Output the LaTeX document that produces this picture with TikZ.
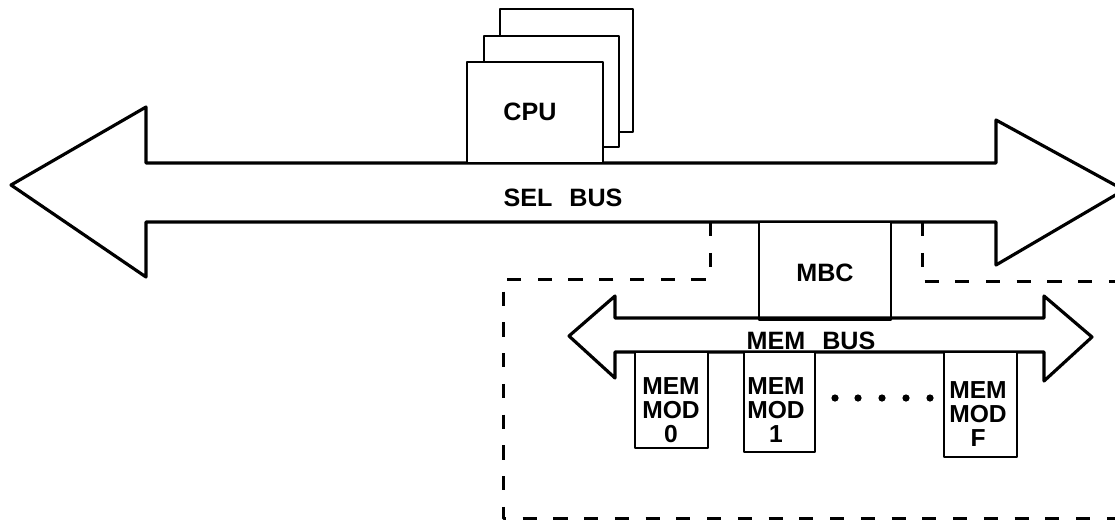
\documentclass[tikz,border=0pt]{standalone}
\usepackage{fontspec}
\setmainfont{Liberation Sans}
\usetikzlibrary{calc}

\begin{document}
\begin{tikzpicture}[x=0.02cm,y=-0.02cm,line join=round,
  bus/.style={line width=1.8pt},
  card/.style={draw,line width=1.6pt,fill=white,inner sep=0pt},
  enclosure/.style={line width=1.7pt,dash pattern=on 8pt off 9.5pt},
  lbl/.style={font=\fontsize{14.3}{16}\selectfont\bfseries,inner sep=0pt},
  modlbl/.style={font=\fontsize{14}{13.7}\selectfont\bfseries,align=center,inner sep=0pt}]
  \useasboundingbox (0,0) rectangle (1115,525);
  % sel bus with the cpu cards on top
  \draw[bus] (146,163) -- (146,107) -- (11,185) -- (146,277) -- (146,222) -- (996,222)
    -- (996,265) -- (1124,190) -- (996,120) -- (996,163) -- cycle;
  \node[card,minimum width=2.66cm,minimum height=2.46cm] (cpu3) at (566.5,70.5) {};
  \node[card,minimum width=2.70cm,minimum height=2.22cm] (cpu2) at (551.5,91.5) {};
  \node[card,minimum width=2.72cm,minimum height=2.02cm] (cpu1) at (535,112.5) {};
  \node[lbl] (cputxt) at (530,112) {CPU};
  \node[lbl] (selbus) at (563,198) {SEL\hspace{0.34cm}BUS};
  % memory subsystem
  \draw[enclosure] (710,222) -- (710,279) -- (503,279) -- (503,518) -- (1115,518);
  \draw[enclosure] (922,222) -- (922,281) -- (1115,281);
  \node[card,minimum width=2.64cm,minimum height=1.96cm] (mbc) at (825,271) {};
  \node[lbl] (mbctxt) at (825,273) {MBC};
  \draw[bus] (615,318) -- (615,296) -- (569,336) -- (615,378) -- (615,352) -- (1044,352)
    -- (1044,381) -- (1092,337) -- (1044,296) -- (1044,318) -- cycle;
  \node[lbl] (membus) at (811,341) {MEM\hspace{0.34cm}BUS};
  \node[card,minimum width=1.46cm,minimum height=1.92cm] (mod0) at (671.5,400) {};
  \node[card,minimum width=1.42cm,minimum height=2.00cm] (mod1) at (779.5,402) {};
  \node[card,minimum width=1.46cm,minimum height=2.10cm] (modF) at (980.5,404.5) {};
  \node[modlbl] (mod0txt) at (671,410) {MEM\\MOD\\0};
  \node[modlbl] (mod1txt) at (776,410) {MEM\\MOD\\1};
  \node[modlbl] (modFtxt) at (978,414) {MEM\\MOD\\F};
  \foreach \x in {835,858,882,906,930}
    \fill (\x,398) circle (3.6);
\end{tikzpicture}
\end{document}
